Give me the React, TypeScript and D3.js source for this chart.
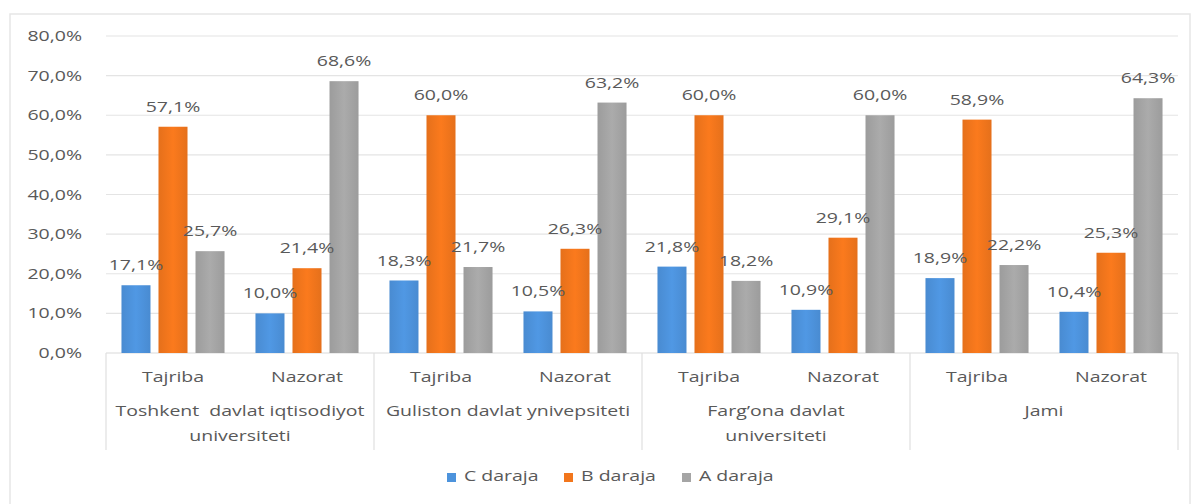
import React from "react";
import * as d3 from "d3";

const universities = [
  ["Toshkent  davlat iqtisodiyot", "universiteti"],
  ["Guliston davlat ynivepsiteti"],
  ["Farg’ona davlat", "universiteti"],
  ["Jami"],
];
const subgroups = ["Tajriba", "Nazorat"];
const seriesNames = ["C daraja", "B daraja", "A daraja"];
const seriesColors = ["#4d93dc", "#f2761c", "#a5a5a5"];
const cValues = [17.1, 10.0, 18.3, 10.5, 21.8, 10.9, 18.9, 10.4];
const bValues = [57.1, 21.4, 60.0, 26.3, 60.0, 29.1, 58.9, 25.3];
const aValues = [25.7, 68.6, 21.7, 63.2, 18.2, 60.0, 22.2, 64.3];
const yTicks = [0, 10, 20, 30, 40, 50, 60, 70, 80];

const W = 1193;
const H = 504;
const left = 106;
const right = 1178;
const top = 36;
const bottom = 353;
const SX = 1.3;
const FONT = "'Open Sans', sans-serif";
const TXT = "#595959";

function SText({ x, y, children, anchor = "middle", size = 15, fill = TXT }: any) {
  return (
    <g transform={`translate(${x},${y}) scale(${SX},1)`}>
      <text
        textAnchor={anchor}
        fontSize={size}
        fontFamily={FONT}
        fill={fill}
        dominantBaseline="middle"
        style={{ whiteSpace: "pre" }}
      >
        {children}
      </text>
    </g>
  );
}

export default function App() {
  const cats = d3.range(8).map(String);
  const x0 = d3.scaleBand<string>().domain(cats).range([left, right]).paddingInner(0).paddingOuter(0);
  const x1 = d3
    .scaleBand<number>()
    .domain([0, 1, 2])
    .range([0, x0.bandwidth()])
    .paddingInner(8 / 37)
    .paddingOuter(0.418);
  const y = d3.scaleLinear().domain([0, 80]).range([bottom, top]);
  const series = [cValues, bValues, aValues];
  const groupW = x0.bandwidth() * 2;

  return (
    <svg width={W} height={H} style={{ position: "absolute", left: 0, top: 0, background: "#fff" }}>
      <defs>
        {seriesColors.map((c, i) => (
          <linearGradient key={i} id={`g${i}`} x1="0" y1="0" x2="1" y2="0">
            <stop offset="0" stopColor={d3.color(c)!.darker(0.15).toString()} />
            <stop offset="0.5" stopColor={d3.color(c)!.brighter(0.1).toString()} />
            <stop offset="1" stopColor={d3.color(c)!.darker(0.15).toString()} />
          </linearGradient>
        ))}
      </defs>
      <rect x={10} y={14} width={1180} height={500} fill="none" stroke="#e6e6e6" strokeWidth={1.5} />
      {yTicks.map((t) => (
        <g key={t}>
          {t > 0 && <line x1={left} x2={right} y1={y(t)} y2={y(t)} stroke="#e4e4e4" strokeWidth={1.2} />}
          <SText x={82} y={y(t) + 1} anchor="end">
            {t.toFixed(1).replace(".", ",") + "%"}
          </SText>
        </g>
      ))}
      <line x1={left} x2={right} y1={bottom} y2={bottom} stroke="#d9d9d9" strokeWidth={1.2} />
      {universities.map((_, i) => (
        <line
          key={i}
          x1={left + i * groupW}
          x2={left + i * groupW}
          y1={bottom}
          y2={450}
          stroke="#e0e0e0"
          strokeWidth={1.2}
        />
      ))}
      <line x1={right} x2={right} y1={bottom} y2={450} stroke="#e0e0e0" strokeWidth={1.2} />
      {cats.map((c, ci) =>
        series.map((vals, si) => {
          const bx = x0(c)! + x1(si)!;
          const v = vals[ci];
          return (
            <rect
              key={`${ci}-${si}`}
              x={bx}
              y={y(v)}
              width={x1.bandwidth()}
              height={bottom - y(v)}
              fill={`url(#g${si})`}
            />
          );
        })
      )}
      {cats.map((c, ci) =>
        series.map((vals, si) => {
          const bx = x0(c)! + x1(si)! + x1.bandwidth() / 2;
          const v = vals[ci];
          return (
            <SText key={`l${ci}-${si}`} x={bx} y={y(v) - 19}>
              {v.toFixed(1).replace(".", ",") + "%"}
            </SText>
          );
        })
      )}
      {cats.map((c, ci) => (
        <SText key={`s${ci}`} x={x0(c)! + x0.bandwidth() / 2} y={378}>
          {subgroups[ci % 2]}
        </SText>
      ))}
      {universities.map((lines, i) =>
        lines.map((ln, li) => (
          <SText key={`u${i}-${li}`} x={left + i * groupW + groupW / 2} y={412 + li * 25}>
            {ln}
          </SText>
        ))
      )}
      {seriesNames.map((n, i) => {
        const lx = [447, 564, 682][i];
        return (
          <g key={n}>
            <rect x={lx} y={473} width={9} height={9} fill={seriesColors[i]} />
            <SText x={lx + 17} y={477} anchor="start">
              {n}
            </SText>
          </g>
        );
      })}
    </svg>
  );
}
